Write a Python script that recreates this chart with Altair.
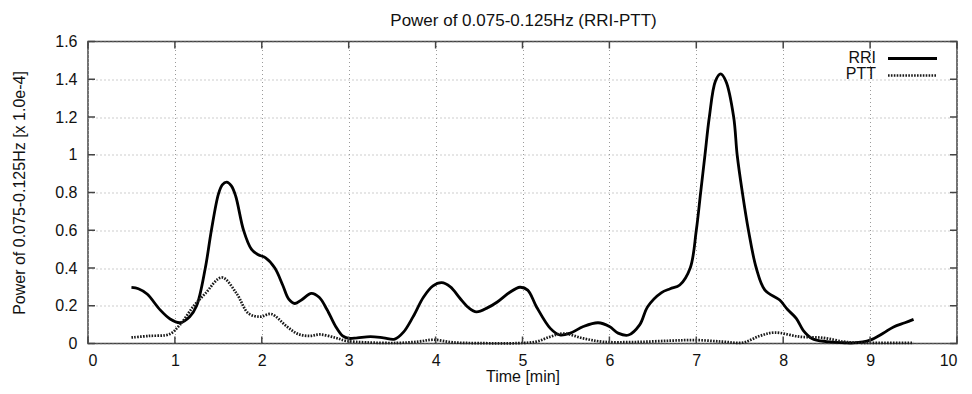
import altair as alt
import pandas as pd

# ---- data ----
rri_t = [0.50, 0.58, 0.68, 0.83, 0.945, 1.06, 1.17, 1.25, 1.35, 1.42, 1.50, 1.545, 1.596, 1.65, 1.70,
         1.79, 1.88,
         1.96, 2.04, 2.15, 2.24, 2.31, 2.38, 2.46, 2.57, 2.66, 2.75, 2.85, 2.93, 3.00, 3.10, 3.25,
         3.40, 3.53, 3.63, 3.74, 3.86, 3.97, 4.07, 4.17, 4.28, 4.38, 4.47, 4.60, 4.71, 4.85, 4.97,
         5.06, 5.16, 5.32, 5.43, 5.55, 5.70, 5.87, 6.00, 6.10, 6.22, 6.35, 6.44, 6.60, 6.70, 6.81,
         6.93, 7.00, 7.05, 7.10, 7.15, 7.22, 7.28, 7.34, 7.43, 7.47, 7.53, 7.60, 7.69, 7.79, 7.96,
         8.05, 8.15, 8.23, 8.33, 8.50, 8.70, 8.81, 9.00, 9.15, 9.27, 9.40, 9.50]
rri_v = [0.297, 0.29, 0.262, 0.178, 0.13, 0.11, 0.142, 0.20, 0.40, 0.60, 0.79, 0.84, 0.855, 0.835, 0.78,
         0.60, 0.50,
         0.47, 0.455, 0.40, 0.31, 0.235, 0.212, 0.232, 0.266, 0.245, 0.18, 0.09, 0.04, 0.027, 0.03, 0.036,
         0.03, 0.023, 0.06, 0.141, 0.245, 0.305, 0.322, 0.30, 0.24, 0.19, 0.168, 0.19, 0.22, 0.27, 0.298,
         0.283, 0.195, 0.08, 0.045, 0.055, 0.09, 0.11, 0.09, 0.055, 0.045, 0.10, 0.195, 0.27, 0.29, 0.31,
         0.40, 0.60, 0.80, 1.00, 1.20, 1.39, 1.428, 1.39, 1.20, 1.00, 0.80, 0.60, 0.40, 0.283, 0.23,
         0.18, 0.133, 0.07, 0.027, 0.01, 0.004, 0.003, 0.018, 0.054, 0.088, 0.11, 0.128]

ptt_t = [0.50, 0.70, 0.94, 1.06, 1.21, 1.35, 1.54, 1.71, 1.845, 1.98, 2.11, 2.29, 2.42, 2.55, 2.67,
         2.85, 2.97, 3.20, 3.55, 3.80, 3.97, 4.20, 4.50, 4.95, 5.16, 5.32, 5.47, 5.70, 5.93, 6.30,
         6.70, 7.00, 7.30, 7.54, 7.73, 7.90, 8.19, 8.46, 8.69, 8.81, 9.10, 9.50]
ptt_v = [0.032, 0.04, 0.05, 0.10, 0.195, 0.265, 0.35, 0.265, 0.16, 0.142, 0.156, 0.089, 0.05, 0.04, 0.048,
         0.03, 0.014, 0.006, 0.003, 0.01, 0.02, 0.006, 0.002, 0.002, 0.01, 0.036, 0.053, 0.027, 0.009, 0.008,
         0.015, 0.018, 0.01, 0.005, 0.04, 0.058, 0.036, 0.03, 0.01, 0.005, 0.003, 0.003]

series_names = ["RRI", "PTT"]
x_ticks = [0, 1, 2, 3, 4, 5, 6, 7, 8, 9, 10]
y_ticks = [0, 0.2, 0.4, 0.6, 0.8, 1.0, 1.2, 1.4, 1.6]

title_text = "Power of 0.075-0.125Hz (RRI-PTT)"
x_title = "Time [min]"
y_title = "Power of 0.075-0.125Hz [x 1.0e-4]"

# ---- layout ----
W, H = 869, 302
FONT = "Liberation Sans"
TXT = "#111111"
TL = 7  # inward tick length

rri_df = pd.DataFrame({"t": rri_t, "v": rri_v})
ptt_df = pd.DataFrame({"t": ptt_t, "v": ptt_v})
xt_df = pd.DataFrame({"t": x_ticks})
yt_df = pd.DataFrame({"v": y_ticks})
rri_name_df = pd.DataFrame({"name": [series_names[0]]})
ptt_name_df = pd.DataFrame({"name": [series_names[1]]})
title_df = pd.DataFrame({"label": [title_text]})

x_scale = alt.Scale(domain=[0, 10], nice=False, zero=False)
y_scale = alt.Scale(domain=[0, 1.6], nice=False)

x_axis = alt.Axis(values=x_ticks, grid=True, gridDash=[1, 3], gridColor="#9a9a9a", gridWidth=1,
                  ticks=False, domain=False, labelFontSize=16, labelFont=FONT, labelColor=TXT,
                  labelPadding=9, title=x_title, titleFont=FONT, titleFontSize=16,
                  titleFontWeight="normal", titleColor=TXT, titleBaseline="alphabetic",
                  titleY=37.5, titleX=W / 2, format="d")
y_axis = alt.Axis(values=y_ticks, grid=True, gridDash=[1, 3], gridColor="#9a9a9a", gridWidth=1,
                  ticks=False, domain=False, labelFontSize=16, labelFont=FONT, labelColor=TXT,
                  labelPadding=11, format="~g", title=y_title, titleFont=FONT, titleFontSize=16,
                  titleFontWeight="normal", titleColor=TXT, titleAngle=270, titleBaseline="middle",
                  titleX=-69, titleY=H / 2)

X = alt.X("t:Q", scale=x_scale, axis=x_axis)
Y = alt.Y("v:Q", scale=y_scale, axis=y_axis)

rri_line = alt.Chart(rri_df).mark_line(color="black", strokeWidth=2.8, interpolate="catmull-rom").encode(x=X, y=Y)
ptt_line = alt.Chart(ptt_df).mark_line(color="#1a1a1a", strokeWidth=2.7, strokeDash=[1.6, 1.3],
                                       interpolate="catmull-rom").encode(x=X, y=Y)

tick_style = dict(color="#444444", strokeWidth=1.5)
bot_ticks = alt.Chart(xt_df).mark_rule(**tick_style).encode(x=X, y=alt.value(H), y2=alt.value(H - TL))
top_ticks = alt.Chart(xt_df).mark_rule(**tick_style).encode(x=X, y=alt.value(0), y2=alt.value(TL))
left_ticks = alt.Chart(yt_df).mark_rule(**tick_style).encode(y=Y, x=alt.value(0), x2=alt.value(TL))
right_ticks = alt.Chart(yt_df).mark_rule(**tick_style).encode(y=Y, x=alt.value(W), x2=alt.value(W - TL))

# chart title as a text mark above the plot
title_mark = alt.Chart(title_df).mark_text(align="center", baseline="alphabetic", font=FONT, fontSize=17,
                                           color=TXT).encode(x=alt.value(W / 2 + 1), y=alt.value(-16),
                                                             text="label:N")

# legend (inside, top right, gnuplot style: label then sample)
leg_text_x = 788
leg_line_x1, leg_line_x2 = 800, 849
leg_rows = [16.5, 32]
leg_rri_txt = alt.Chart(rri_name_df).mark_text(align="right", baseline="middle", font=FONT, fontSize=16,
                                               color=TXT).encode(x=alt.value(leg_text_x), y=alt.value(leg_rows[0]),
                                                                 text="name:N")
leg_ptt_txt = alt.Chart(ptt_name_df).mark_text(align="right", baseline="middle", font=FONT, fontSize=16,
                                               color=TXT).encode(x=alt.value(leg_text_x), y=alt.value(leg_rows[1]),
                                                                 text="name:N")
leg_rri_line = alt.Chart(rri_name_df).mark_rule(color="black", strokeWidth=2.8).encode(
    x=alt.value(leg_line_x1), x2=alt.value(leg_line_x2), y=alt.value(leg_rows[0] + 0.5))
leg_ptt_line = alt.Chart(ptt_name_df).mark_rule(color="#1a1a1a", strokeWidth=2.7, strokeDash=[1.6, 1.3]).encode(
    x=alt.value(leg_line_x1), x2=alt.value(leg_line_x2 - 1), y=alt.value(leg_rows[1] + 2))

chart = alt.layer(
    rri_line, ptt_line, bot_ticks, top_ticks, left_ticks, right_ticks,
    title_mark, leg_rri_txt, leg_ptt_txt, leg_rri_line, leg_ptt_line
).properties(
    width=W, height=H,
    padding={"left": 88, "top": 41.5, "right": 15, "bottom": 50.5},
    autosize=alt.AutoSizeParams(type="none"),
    background="white",
).configure_view(stroke="#444444", strokeWidth=1.5)

chart.save("out.html", embed_options={"renderer": "svg", "actions": False})
